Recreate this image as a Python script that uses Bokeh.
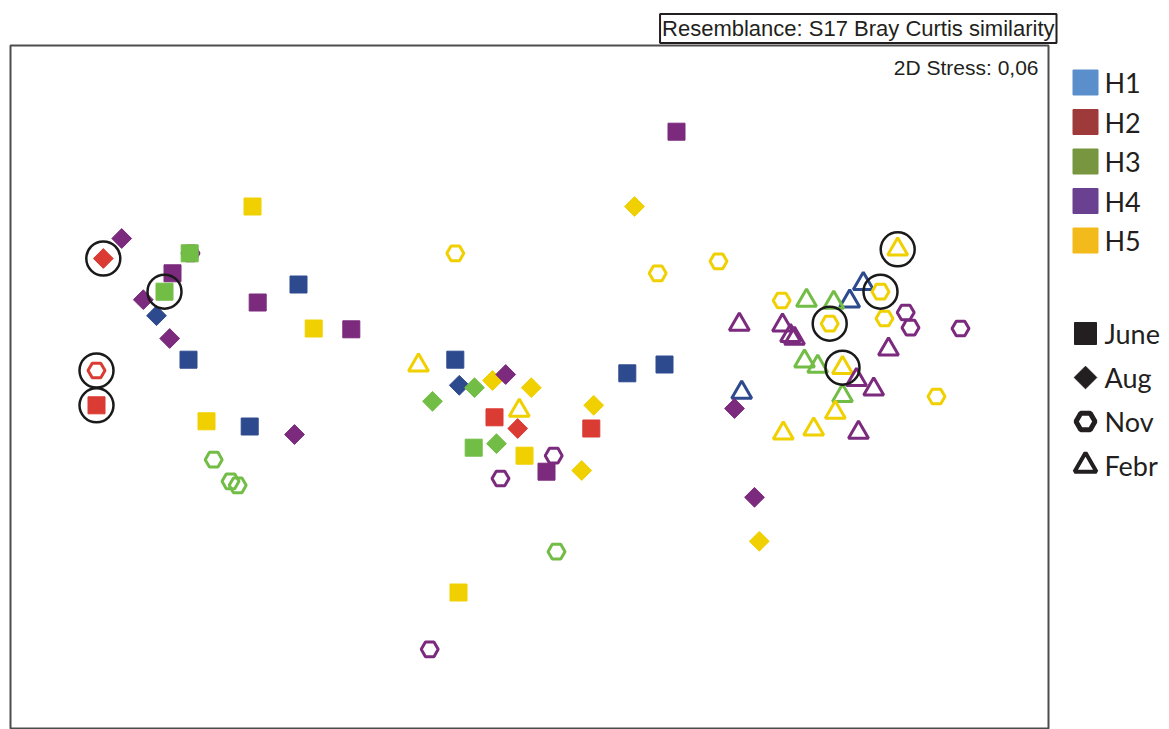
from bokeh.plotting import figure
from bokeh.models import ColumnDataSource, Range1d, Label, Title
from bokeh.layouts import row
from bokeh.embed import file_html
from bokeh.resources import INLINE
from bokeh.core.properties import value
import math

# ---------------- data (nMDS coordinates) ----------------
site = ["H5", "H4", "H2", "H4", "H3", "H4", "H3", "H4", "H1", "H4",
        "H1", "H1", "H4", "H5", "H4", "H2", "H2", "H5", "H1", "H4",
        "H3", "H3", "H3",
        "H4", "H5", "H5", "H5", "H5", "H1", "H1", "H3", "H5", "H4",
        "H5", "H3", "H2", "H5", "H2", "H3", "H3", "H5", "H4", "H4",
        "H4", "H5", "H5", "H2", "H1", "H1", "H4", "H5", "H3", "H5", "H4",
        "H5", "H5", "H1", "H5", "H1", "H5", "H3", "H3", "H5", "H4",
        "H4", "H4", "H4", "H4", "H4", "H4", "H5", "H4", "H3", "H3",
        "H5", "H4", "H4", "H3", "H1", "H4", "H5", "H5", "H5", "H5", "H4"]
month = ["June", "Aug", "Aug", "Nov", "June", "June", "June", "Aug", "Aug", "Aug",
         "June", "June", "June", "June", "June", "Nov", "June", "June", "June", "Aug",
         "Nov", "Nov", "Nov",
         "June", "Aug", "Nov", "Nov", "Febr", "June", "Aug", "Aug", "Aug", "Aug",
         "Aug", "Aug", "June", "Febr", "Aug", "June", "Aug", "June", "Nov", "June",
         "Nov", "Aug", "Aug", "June", "June", "June", "Aug", "Aug", "Nov", "June", "Nov",
         "Nov", "Febr", "Febr", "Nov", "Febr", "Nov", "Febr", "Febr", "Nov", "Nov",
         "Nov", "Nov", "Febr", "Febr", "Febr", "Febr", "Nov", "Febr", "Febr", "Febr",
         "Febr", "Febr", "Febr", "Febr", "Febr", "Aug", "Nov", "Febr", "Febr", "Febr", "Febr"]
nmds1 = [-0.695, -1.022, -1.068, -0.850, -0.852, -0.895, -0.915, -0.968, -0.935, -0.902,
         -0.855, -0.580, -0.682, -0.542, -0.448, -1.085, -1.085, -0.810, -0.702, -0.590,
         -0.792, -0.750, -0.732,
         0.365, 0.260, -0.188, 0.318, -0.280, -0.188, -0.178, -0.140, -0.095, -0.062,
         0.002, -0.245, -0.090, -0.028, -0.032, -0.142, -0.085, -0.015, 0.058, 0.040,
         -0.075, 0.128, 0.158, 0.152, 0.242, 0.335, 0.560, 0.572, 0.065, -0.180, -0.252,
         0.470, 0.918, 0.832, 0.875, 0.798, 0.628, 0.690, 0.758, 0.885, 0.938,
         0.950, 1.075, 0.522, 0.630, 0.650, 0.660, 0.748, 0.895, 0.685, 0.718,
         0.780, 0.815, 0.858, 0.780, 0.528, 0.510, 1.015, 0.762, 0.708, 0.632, 0.820]
nmds2 = [0.435, 0.355, 0.305, 0.318, 0.318, 0.268, 0.222, 0.202, 0.162, 0.105,
         0.052, 0.240, 0.195, 0.130, 0.128, 0.025, -0.062, -0.102, -0.115, -0.135,
         -0.198, -0.252, -0.262,
         0.622, 0.435, 0.318, 0.268, 0.038, 0.052, -0.012, -0.018, 0.000, 0.015,
         -0.018, -0.052, -0.092, -0.075, -0.120, -0.168, -0.158, -0.188, -0.188, -0.228,
         -0.245, -0.225, -0.062, -0.120, 0.018, 0.040, -0.292, -0.402, -0.428, -0.530, -0.672,
         0.298, 0.328, 0.242, 0.222, 0.198, 0.200, 0.200, 0.195, 0.155, 0.170,
         0.132, 0.130, 0.140, 0.138, 0.112, 0.105, 0.142, 0.078, 0.048, 0.035,
         0.032, 0.002, -0.022, -0.038, -0.030, -0.070, -0.040, -0.080, -0.122, -0.132, -0.130]
circled = [2, 6, 15, 16, 55, 57, 70, 74]   # indices of encircled samples

site_names = ["H1", "H2", "H3", "H4", "H5"]
month_names = ["June", "Aug", "Nov", "Febr"]
title_text = "Resemblance: S17 Bray Curtis similarity"
stress_text = "2D Stress: 0,06"

# ---------------- styles ----------------
point_colors = {"H1": "#2E4A8E", "H2": "#DA3B33", "H3": "#72BD45", "H4": "#7B2A7D", "H5": "#F0D000"}
legend_colors = ["#5A8FCB", "#9E3A3A", "#77963F", "#6A4190", "#F3BA1B"]
m_marker = {"June": "square", "Aug": "square", "Nov": "hex", "Febr": "triangle"}
m_size = {"June": 17, "Aug": 14, "Nov": 17, "Febr": 20}
m_angle = {"June": 0.0, "Aug": math.pi / 4, "Nov": 0.0, "Febr": 0.0}
m_fill = {"June": 1.0, "Aug": 1.0, "Nov": 0.0, "Febr": 0.0}
m_lw = {"June": 1.0, "Aug": 1.0, "Nov": 3.0, "Febr": 3.0}

src = ColumnDataSource(dict(
    x=nmds1, y=nmds2,
    color=[point_colors[s] for s in site],
    marker=[m_marker[m] for m in month],
    size=[m_size[m] for m in month],
    angle=[m_angle[m] for m in month],
    fill_alpha=[m_fill[m] for m in month],
    lw=[m_lw[m] for m in month],
))
circ = ColumnDataSource(dict(x=[nmds1[i] for i in circled], y=[nmds2[i] for i in circled]))

H = 729
TOP = 45
MAIN_W = 1058
LEG_W = 111

p = figure(width=MAIN_W, height=H, output_backend="svg", toolbar_location=None,
           x_range=Range1d(-1.30, 1.295), y_range=Range1d(-0.8725, 0.8375),
           x_axis_location=None, y_axis_location=None,
           min_border_left=10, min_border_right=10, min_border_top=TOP, min_border_bottom=0)
p.grid.visible = False
p.outline_line_color = "#4D4D4D"
p.outline_line_width = 2
p.background_fill_color = "white"
p.border_fill_color = "white"

p.title = Title(text=title_text, align="right", offset=-8, standoff=5,
                text_font="Liberation Sans", text_font_size="22px", text_font_style="normal",
                text_color="#231F20", border_line_color="#231F20", border_line_width=2,
                padding=2, background_fill_color="white")

p.scatter(x="x", y="y", source=src, marker="marker", size="size", angle="angle",
          fill_color="color", fill_alpha="fill_alpha", line_color="color", line_width="lw")
p.scatter(x="x", y="y", source=circ, marker="circle", size=34,
          fill_color=None, line_color="#1A1A1A", line_width=2.5)

p.add_layout(Label(x=1.295, y=0.8375, x_offset=-10, y_offset=-10, text=stress_text,
                   text_align="right", text_baseline="top", text_font="Liberation Sans",
                   text_font_size="21px", text_color="#231F20"))

# ---------------- legend panel (coordinates = page pixels) ----------------
lg = figure(width=LEG_W, height=H, output_backend="svg", toolbar_location=None,
            x_range=Range1d(MAIN_W, MAIN_W + LEG_W), y_range=Range1d(H, TOP),
            x_axis_location=None, y_axis_location=None,
            min_border_left=0, min_border_right=0, min_border_top=TOP, min_border_bottom=0)
lg.grid.visible = False
lg.outline_line_color = None

h_y = [82 + 39.5 * i for i in range(len(site_names))]
m_y = [333 + 44 * i for i in range(len(month_names))]
gx = 1085
tx = 1104

lg.scatter(x=[gx] * len(site_names), y=h_y, marker="square", size=25,
           fill_color=legend_colors, line_color=legend_colors)
lg.text(x=[tx] * len(site_names), y=h_y, text=site_names, text_font=value("Lato"),
        text_font_size="27px", text_baseline="middle", text_color="#231F20")

leg_marker = ["square", "square", "hex", "triangle"]
leg_size = [22, 16, 19, 22]
leg_angle = [0.0, math.pi / 4, 0.0, 0.0]
leg_fill = [1.0, 1.0, 0.0, 0.0]
leg_lw = [1.0, 1.0, 5.0, 4.0]
lsrc = ColumnDataSource(dict(x=[gx] * 4, y=m_y, marker=leg_marker, size=leg_size,
                             angle=leg_angle, fa=leg_fill, lw=leg_lw))
lg.scatter(x="x", y="y", source=lsrc, marker="marker", size="size", angle="angle",
           fill_color="#231F20", fill_alpha="fa", line_color="#231F20", line_width="lw")
lg.text(x=[tx] * len(month_names), y=m_y, text=month_names, text_font=value("Lato"),
        text_font_size="27px", text_baseline="middle", text_color="#231F20")

layout = row(p, lg)
open("out.html", "w").write(file_html(layout, INLINE))
